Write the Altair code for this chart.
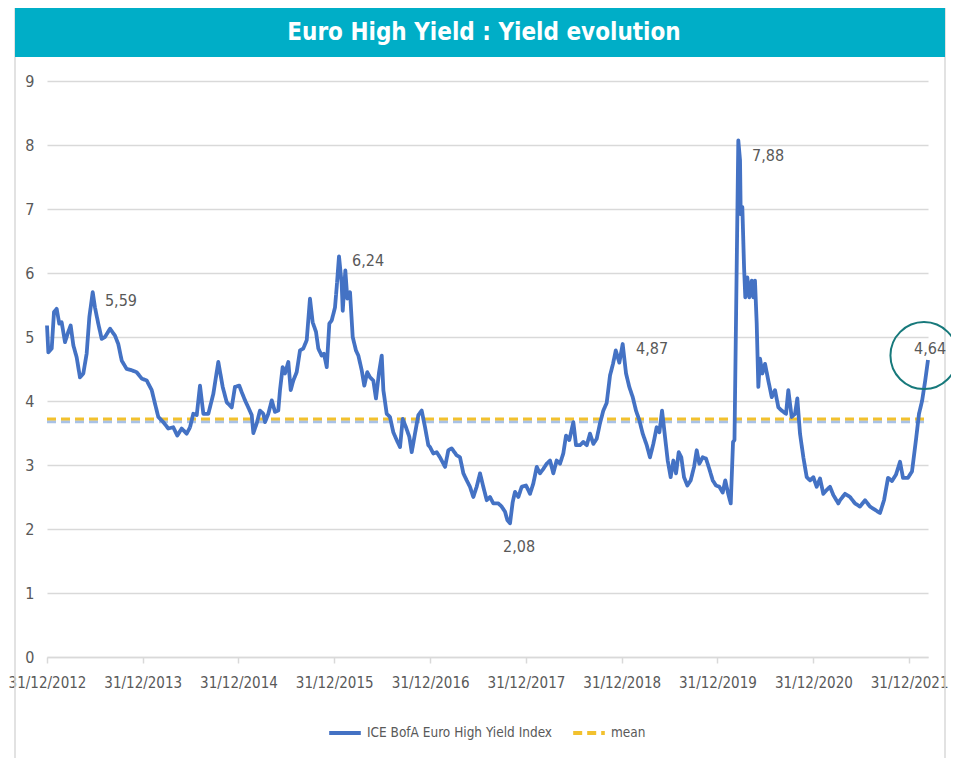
import altair as alt
import pandas as pd

# ---------------- data ----------------
years = [
    2013.000, 2013.014, 2013.049, 2013.073, 2013.101, 2013.128, 2013.153, 2013.188, 2013.222, 2013.247,
    2013.275, 2013.310, 2013.344, 2013.379, 2013.414, 2013.442, 2013.477, 2013.501, 2013.535, 2013.571,
    2013.605, 2013.658, 2013.710, 2013.744, 2013.780, 2013.832, 2013.884, 2013.936, 2013.989, 2014.041,
    2014.093, 2014.127, 2014.162, 2014.214, 2014.266, 2014.318, 2014.360, 2014.406, 2014.458, 2014.493,
    2014.527, 2014.563, 2014.597, 2014.632, 2014.684, 2014.736, 2014.788, 2014.834, 2014.876, 2014.928,
    2014.962, 2015.007, 2015.032, 2015.067, 2015.101, 2015.137, 2015.154, 2015.189, 2015.223, 2015.258,
    2015.276, 2015.310, 2015.346, 2015.380, 2015.414, 2015.432, 2015.460, 2015.484, 2015.519, 2015.544,
    2015.571, 2015.606, 2015.641, 2015.675, 2015.711, 2015.745, 2015.773, 2015.808, 2015.832, 2015.867,
    2015.891, 2015.920, 2015.947, 2015.972, 2016.006, 2016.024, 2016.048, 2016.076, 2016.087, 2016.114,
    2016.135, 2016.163, 2016.191, 2016.225, 2016.250, 2016.285, 2016.312, 2016.343, 2016.372, 2016.406,
    2016.434, 2016.466, 2016.494, 2016.511, 2016.546, 2016.580, 2016.615, 2016.650, 2016.685, 2016.713,
    2016.747, 2016.782, 2016.807, 2016.841, 2016.876, 2016.911, 2016.946, 2016.980, 2016.998, 2017.032,
    2017.068, 2017.102, 2017.155, 2017.189, 2017.224, 2017.277, 2017.311, 2017.346, 2017.381, 2017.415,
    2017.450, 2017.485, 2017.520, 2017.554, 2017.590, 2017.624, 2017.659, 2017.711, 2017.746, 2017.781,
    2017.805, 2017.833, 2017.861, 2017.885, 2017.920, 2017.955, 2018.000, 2018.042, 2018.076, 2018.112,
    2018.146, 2018.181, 2018.216, 2018.251, 2018.285, 2018.320, 2018.355, 2018.389, 2018.418, 2018.452,
    2018.494, 2018.522, 2018.564, 2018.598, 2018.634, 2018.668, 2018.703, 2018.738, 2018.772, 2018.807,
    2018.842, 2018.877, 2018.908, 2018.937, 2018.974, 2019.009, 2019.044, 2019.078, 2019.114, 2019.148,
    2019.183, 2019.218, 2019.260, 2019.294, 2019.329, 2019.364, 2019.392, 2019.420, 2019.451, 2019.479,
    2019.510, 2019.538, 2019.566, 2019.594, 2019.621, 2019.649, 2019.684, 2019.719, 2019.754, 2019.782,
    2019.809, 2019.844, 2019.879, 2019.913, 2019.949, 2019.983, 2020.018, 2020.053, 2020.080, 2020.112,
    2020.137, 2020.161, 2020.176, 2020.192, 2020.216, 2020.234, 2020.241, 2020.258, 2020.276, 2020.289,
    2020.310, 2020.331, 2020.356, 2020.373, 2020.390, 2020.408, 2020.425, 2020.443, 2020.467, 2020.495,
    2020.529, 2020.565, 2020.599, 2020.634, 2020.669, 2020.714, 2020.738, 2020.773, 2020.808, 2020.832,
    2020.860, 2020.895, 2020.930, 2020.965, 2020.999, 2021.034, 2021.069, 2021.103, 2021.139, 2021.173,
    2021.208, 2021.260, 2021.278, 2021.330, 2021.382, 2021.434, 2021.486, 2021.539, 2021.591, 2021.643,
    2021.695, 2021.737, 2021.779, 2021.820, 2021.862, 2021.904, 2021.935, 2021.987, 2022.029, 2022.071,
    2022.102, 2022.134, 2022.165, 2022.196,
]
yields = [
    5.18, 4.76, 4.82, 5.39, 5.44, 5.21, 5.23, 4.92, 5.08, 5.18,
    4.87, 4.68, 4.37, 4.43, 4.74, 5.31, 5.70, 5.46, 5.21, 4.97,
    5.00, 5.13, 5.02, 4.89, 4.63, 4.50, 4.48, 4.45, 4.35, 4.32,
    4.17, 3.96, 3.75, 3.67, 3.57, 3.59, 3.46, 3.57, 3.49, 3.59,
    3.80, 3.78, 4.24, 3.80, 3.80, 4.11, 4.61, 4.22, 3.98, 3.90,
    4.22, 4.24, 4.14, 4.01, 3.90, 3.78, 3.50, 3.65, 3.85, 3.80,
    3.67, 3.80, 4.01, 3.83, 3.85, 4.17, 4.53, 4.43, 4.61, 4.17,
    4.32, 4.45, 4.79, 4.82, 4.95, 5.60, 5.23, 5.08, 4.82, 4.71,
    4.74, 4.53, 5.21, 5.26, 5.46, 5.78, 6.26, 5.83, 5.41, 6.04,
    5.60, 5.70, 5.00, 4.79, 4.71, 4.48, 4.24, 4.45, 4.37, 4.32,
    4.04, 4.45, 4.71, 4.17, 3.80, 3.75, 3.51, 3.39, 3.28, 3.72,
    3.59, 3.44, 3.20, 3.49, 3.78, 3.85, 3.59, 3.31, 3.28, 3.18,
    3.20, 3.12, 2.97, 3.23, 3.26, 3.15, 3.12, 2.87, 2.76, 2.66,
    2.50, 2.66, 2.87, 2.66, 2.45, 2.50, 2.40, 2.40, 2.35, 2.27,
    2.14, 2.09, 2.42, 2.58, 2.50, 2.66, 2.68, 2.55, 2.71, 2.97,
    2.87, 2.94, 3.02, 3.07, 2.87, 3.07, 3.02, 3.18, 3.46, 3.39,
    3.67, 3.31, 3.31, 3.36, 3.31, 3.49, 3.33, 3.41, 3.65, 3.85,
    3.97, 4.40, 4.58, 4.79, 4.60, 4.89, 4.43, 4.22, 4.06, 3.85,
    3.70, 3.49, 3.31, 3.12, 3.33, 3.59, 3.51, 3.85, 3.44, 3.07,
    2.81, 3.07, 2.87, 3.20, 3.12, 2.81, 2.68, 2.76, 2.97, 3.23,
    3.02, 3.12, 3.10, 2.94, 2.76, 2.68, 2.66, 2.57, 2.76, 2.54,
    2.40, 3.36, 3.39, 5.26, 8.07, 7.76, 6.92, 7.03, 6.09, 5.62,
    5.93, 5.62, 5.88, 5.62, 5.88, 5.21, 4.22, 4.66, 4.43, 4.58,
    4.32, 4.06, 4.17, 3.90, 3.85, 3.80, 4.17, 3.75, 3.80, 4.04,
    3.49, 3.12, 2.81, 2.76, 2.81, 2.66, 2.79, 2.55, 2.61, 2.66,
    2.53, 2.40, 2.45, 2.55, 2.50, 2.40, 2.35, 2.45, 2.35, 2.30,
    2.25, 2.45, 2.80, 2.75, 2.85, 3.05, 2.80, 2.80, 2.90, 3.40,
    3.80, 4.00, 4.30, 4.64,
]
series_names = ["ICE BofA Euro High Yield Index", "mean"]
mean_value = [3.72]
mean_shadow_value = [3.675]

ann_text = ["5,59", "6,24", "2,08", "4,87", "7,88", "4,64"]
ann_year = [2013.605, 2016.184, 2017.760, 2019.148, 2020.359, 2022.050]
ann_value = [5.57, 6.18, 1.72, 4.82, 7.83, 4.82]

circle_year = [2022.154]
circle_value = [4.71]

tick_years = [2012, 2013, 2014, 2015, 2016, 2017, 2018, 2019, 2020, 2021]
y_ticks = [0, 1, 2, 3, 4, 5, 6, 7, 8, 9]
title_text = "Euro High Yield : Yield evolution"

# ---------------- helpers ----------------
BASE = pd.Timestamp("2012-12-31")


def to_date(t):
    return BASE + pd.to_timedelta((t - 2013.0) * 365.25, unit="D")


FONT = "Liberation Sans Narrow, DejaVu Sans Condensed, Roboto Condensed, Open Sans, sans-serif"
GREY_TXT = "#595959"
GRID = "#D9D9D9"
BLUE = "#4472C4"
YELLOW = "#F2C12E"
LIGHTBLUE = "#A9C2E6"
TEAL = "#00AEC7"

df_line = pd.DataFrame({
    "date": [to_date(t) for t in years],
    "value": yields,
    "series": series_names[0],
})
d0, d1 = df_line["date"].min(), df_line["date"].max()
df_mean = pd.DataFrame({"date": [d0, d1], "value": mean_value * 2, "series": series_names[1]})
df_shadow = pd.DataFrame({"date": [d0, d1], "value": mean_shadow_value * 2})
df_ann = pd.DataFrame({"date": [to_date(t) for t in ann_year], "value": ann_value, "label": ann_text})
df_circle = pd.DataFrame({"date": [to_date(t) for t in circle_year], "value": circle_value})
df_title = pd.DataFrame({"t": [title_text]})

W, H = 881, 576

x_enc = alt.X(
    "date:T",
    scale=alt.Scale(nice=False),
    axis=alt.Axis(
        values=[alt.DateTime(year=y, month=12, date=31) for y in tick_years],
        format="%d/%m/%Y",
        title=None,
        grid=False,
        labelFont=FONT,
        labelFontSize=15,
        labelColor=GREY_TXT,
        labelPadding=12,
        labelOverlap=False,
        labelFlush=False,
        domainColor=GRID,
        domainWidth=1.5,
        tickColor=GRID,
        tickWidth=1.5,
        tickSize=6,
    ),
)
y_enc = alt.Y(
    "value:Q",
    scale=alt.Scale(domain=[0, 9], nice=False),
    axis=alt.Axis(
        values=y_ticks,
        format="d",
        title=None,
        domain=False,
        ticks=False,
        grid=True,
        gridColor=GRID,
        gridWidth=1.5,
        labelFont=FONT,
        labelFontSize=16,
        labelColor=GREY_TXT,
        labelPadding=13,
    ),
)

color_enc = alt.Color(
    "series:N",
    scale=alt.Scale(domain=series_names, range=[BLUE, YELLOW]),
    legend=alt.Legend(
        title=None,
        orient="none",
        legendX=280,
        legendY=634,
        direction="horizontal",
        symbolType="stroke",
        symbolStrokeWidth=4,
        symbolSize=1000,
        labelFont=FONT,
        labelFontSize=13.5,
        labelColor=GREY_TXT,
        labelOffset=4,
        labelLimit=0,
        columnPadding=12,
    ),
)
dash_enc = alt.StrokeDash(
    "series:N",
    scale=alt.Scale(domain=series_names, range=[[1, 0], [9, 5]]),
    legend=None,
)

frame = alt.Chart(df_title).mark_rect(fill=None, stroke=GRID, strokeWidth=1.5).encode(
    x=alt.value(-32), x2=alt.value(898), y=alt.value(-73), y2=alt.value(720)
)
banner = alt.Chart(df_title).mark_rect(color=TEAL).encode(
    x=alt.value(-32), x2=alt.value(898), y=alt.value(-73), y2=alt.value(-24)
)
banner_text = alt.Chart(df_title).mark_text(
    color="white", font=FONT, fontSize=24, fontWeight="bold", align="center", baseline="middle"
).encode(x=alt.value(437), y=alt.value(-48), text="t:N")

shadow = alt.Chart(df_shadow).mark_line(color=LIGHTBLUE, strokeWidth=3, strokeDash=[9, 5]).encode(
    x="date:T", y="value:Q"
)
mean_line = alt.Chart(df_mean).mark_line(strokeWidth=3).encode(
    x=x_enc, y=y_enc, color=color_enc, strokeDash=dash_enc
)
main_line = alt.Chart(df_line).mark_line(strokeWidth=3.8, strokeJoin="round").encode(
    x="date:T", y="value:Q", color=color_enc, strokeDash=dash_enc
)
ann = alt.Chart(df_ann).mark_text(
    align="left", baseline="middle", font=FONT, fontSize=16, color=GREY_TXT
).encode(x="date:T", y="value:Q", text="label:N")
circle = alt.Chart(df_circle).mark_point(
    shape="circle", filled=False, size=4500, stroke="#17797B", strokeWidth=2, opacity=1
).encode(x="date:T", y="value:Q")

chart = (
    alt.layer(frame, banner, banner_text, shadow, mean_line, main_line, ann, circle)
    .properties(
        width=W,
        height=H,
        autosize=alt.AutoSizeParams(type="none"),
        padding={"left": 39, "top": 73, "right": 23, "bottom": 101},
        background="white",
    )
    .configure_view(stroke=None)
)

chart.save("out.html", embed_options={"renderer": "svg", "actions": False})
